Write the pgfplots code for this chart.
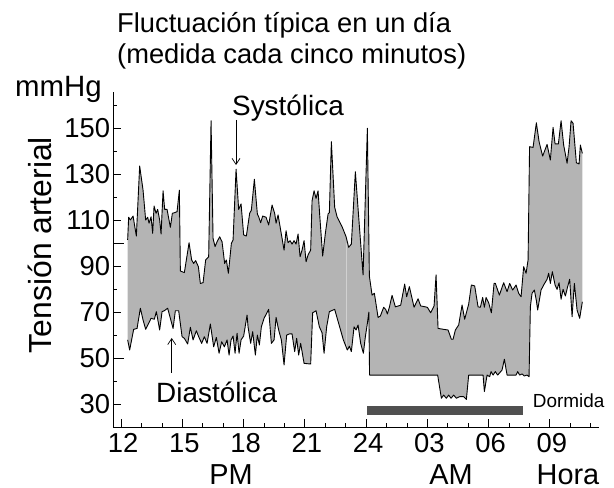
\documentclass[border=0pt]{standalone}
\usepackage{fontspec}
\setmainfont{Liberation Sans}
\usepackage{pgfplots}
\pgfplotsset{compat=1.18}
\usepgfplotslibrary{fillbetween}
\usepackage{pgfplotstable}
\usetikzlibrary{arrows.meta}
\definecolor{fillgray}{RGB}{180,180,180}
\definecolor{bargray}{RGB}{80,80,80}

\pgfplotstableread{
h v
12.323 101.4
12.372 111.3
12.455 110.1
12.588 111.8
12.749 103.1
12.911 133.6
13.077 123.1
13.205 110.1
13.303 111.3
13.371 108.7
13.469 111.5
13.548 104.3
13.616 116.2
13.714 113.0
13.792 114.7
13.890 110.1
13.959 104.0
14.057 122.8
14.135 114.7
14.253 114.7
14.414 106.9
14.512 113.0
14.625 113.3
14.742 113.7
14.855 123.1
14.904 87.9
15.100 87.2
15.330 100.2
15.457 92.7
15.555 91.2
15.653 92.4
15.786 89.8
15.883 82.5
16.016 82.8
16.143 92.7
16.290 94.1
16.407 153.3
16.505 102.1
16.603 98.5
16.701 100.6
16.829 102.8
16.946 100.6
17.073 91.2
17.157 92.7
17.255 86.9
17.402 99.9
17.485 101.4
17.632 132.2
17.759 114.7
17.877 117.1
18.004 103.6
18.136 103.1
18.298 113.0
18.381 114.4
18.528 127.8
18.675 112.7
18.738 111.5
18.836 108.9
18.934 111.8
19.101 111.3
19.228 107.9
19.395 116.6
19.522 113.0
19.591 108.7
19.689 112.3
19.816 105.7
19.982 97.0
20.080 105.4
20.178 100.2
20.276 101.1
20.374 99.6
20.472 101.1
20.570 99.6
20.668 104.0
20.766 94.1
20.864 97.0
20.962 101.1
21.060 91.9
21.158 94.9
21.285 97.0
21.354 118.5
21.452 122.8
21.549 119.5
21.647 122.8
21.745 110.1
21.873 94.4
22.005 104.3
22.137 112.7
22.201 113.3
22.299 144.2
22.461 115.6
22.578 111.5
22.823 107.2
23.019 102.8
23.146 98.2
23.278 99.6
23.474 131.1
23.636 111.5
23.851 86.2
24.062 150.0
24.160 85.7
24.292 77.4
24.405 78.2
24.586 67.7
24.698 68.3
24.860 72.1
24.958 71.2
25.041 69.2
25.139 72.1
25.271 77.3
25.433 72.3
25.693 73.0
25.889 82.2
25.986 76.7
26.119 81.1
26.349 72.1
26.545 75.8
26.672 72.7
27.000 72.1
27.162 69.7
27.328 72.7
27.426 86.2
27.524 62.9
28.014 62.2
28.175 58.2
28.258 58.2
28.371 62.2
28.533 64.4
28.699 73.1
28.827 66.9
29.023 73.5
29.155 81.8
29.317 81.4
29.483 72.3
29.596 72.1
29.708 76.4
29.791 72.1
29.875 76.4
30.002 74.1
30.134 69.7
30.266 82.5
30.330 82.5
30.526 77.4
30.737 82.8
30.903 78.9
31.031 82.5
31.177 79.6
31.344 81.8
31.471 78.2
31.589 76.7
31.716 89.8
31.834 86.9
31.932 92.7
32.005 142.0
32.176 141.7
32.338 152.4
32.470 144.2
32.646 137.9
32.862 143.0
33.023 136.2
33.156 150.4
33.254 143.2
33.416 143.2
33.548 153.3
33.675 142.7
33.842 134.8
33.940 142.0
34.037 153.3
34.135 152.2
34.297 135.0
34.429 134.5
34.493 142.7
34.590 139.1
}\sys

\pgfplotstableread{
h v
12.323 57.9
12.421 53.5
12.617 62.5
12.784 62.9
12.945 71.7
13.077 66.6
13.205 62.5
13.352 65.1
13.469 67.3
13.631 66.9
13.729 70.2
13.890 62.2
14.008 70.2
14.120 70.6
14.282 71.7
14.414 67.3
14.547 62.9
14.659 70.6
14.821 70.6
14.987 59.3
15.100 58.6
15.262 56.1
15.394 63.4
15.526 57.9
15.688 61.9
15.800 59.3
15.947 56.4
16.079 59.3
16.212 56.4
16.373 64.8
16.535 54.9
16.667 59.0
16.799 52.1
16.927 57.1
17.059 54.9
17.191 57.9
17.289 51.3
17.387 57.9
17.485 59.6
17.583 52.1
17.681 60.8
17.779 52.1
17.877 57.9
18.004 59.6
18.170 68.7
18.219 63.6
18.347 56.4
18.445 61.5
18.577 51.3
18.675 60.0
18.773 55.7
18.871 63.6
19.003 67.3
19.228 71.2
19.360 56.4
19.493 57.9
19.591 67.7
19.718 62.2
19.850 57.9
19.982 47.0
20.110 60.0
20.242 60.5
20.374 60.5
20.502 52.8
20.600 58.6
20.697 51.3
20.795 56.4
20.962 47.7
21.285 47.4
21.383 69.7
21.549 70.6
21.711 63.6
21.843 61.0
21.941 52.1
22.069 63.6
22.201 70.2
22.461 71.2
22.656 65.1
22.886 57.9
23.082 53.5
23.180 55.2
23.278 52.8
23.410 63.6
23.508 62.2
23.606 64.4
23.734 56.4
23.866 52.1
23.964 59.3
24.062 65.1
24.135 70.0
24.169 42.6
27.504 42.6
27.686 32.5
27.798 33.9
27.930 32.5
28.043 33.9
28.161 32.5
28.288 33.9
28.420 32.5
28.582 33.2
28.778 33.2
28.910 32.0
29.023 42.6
29.728 42.6
29.792 35.4
29.924 42.6
30.051 41.9
30.120 44.1
30.218 42.6
30.330 44.1
30.443 42.6
30.658 44.8
30.771 49.5
30.903 42.6
31.344 42.6
31.422 44.1
31.520 42.6
31.638 43.1
31.750 42.2
31.882 42.6
31.980 41.9
32.044 72.3
32.127 78.2
32.240 79.6
32.338 75.0
32.402 70.9
32.568 79.6
32.696 81.8
32.862 84.3
32.940 86.9
33.023 82.5
33.121 87.6
33.254 81.8
33.352 79.9
33.450 82.8
33.548 75.6
33.646 79.9
33.759 77.0
33.871 81.1
33.969 84.3
34.087 68.0
34.199 82.5
34.331 70.9
34.459 67.3
34.590 74.5
}\dia

\begin{document}
\begin{tikzpicture}
\begin{axis}[
  at={(113.3bp,61bp)}, anchor=south west,
  scale only axis, width=486bp, height=335bp,
  xmin=11.62, xmax=35.42, ymin=20, ymax=165.8,
  axis lines*=left,
  axis line style={black, line width=0.8bp},
  xtick={12,15,18,21,24,27,30,33},
  xticklabels={12,15,18,21,24,03,06,09},
  minor xtick={13,14,16,17,19,20,22,23,25,26,28,29,31,32,34,35},
  ytick={30,50,70,90,110,130,150},
  minor ytick={40,60,80,100,120,140,160},
  extra y ticks={50,100},
  extra y tick labels={},
  extra y tick style={major tick length=11bp},
  tick align=inside,
  major tick length=7.5bp,
  minor tick length=3.5bp,
  tick style={black, line width=0.8bp},
  /pgf/number format/assume math mode=true,
  ticklabel style={font=\fontsize{27.5}{28}\selectfont},
  xticklabel style={inner sep=0pt, yshift=-6bp, xshift=2bp},
  yticklabel style={inner sep=0pt, xshift=-3bp},
  clip=false,
]
\addplot[draw=none, name path=S, forget plot] table {\sys};
\addplot[draw=none, name path=D, forget plot] table {\dia};
\addplot[fill=fillgray, draw=none] fill between[of=S and D];
\addplot[color=white!82!black, line width=0.6bp] coordinates {(23.05,53.6) (23.05,100.2)};
\addplot[black, line width=0.9bp, line join=round] table {\sys};
\addplot[black, line width=0.9bp, line join=round] table {\dia};
\addplot[fill=bargray, draw=none] coordinates {(24.05,25.2) (31.69,25.2) (31.69,29.1) (24.05,29.1)} -- cycle;
\end{axis}
\node[anchor=base west, font=\fontsize{27.4}{27.4}\selectfont, inner sep=0pt] at (117bp,455.7bp) {Fluctuación típica en un día};
\node[anchor=base west, font=\fontsize{27.4}{27.4}\selectfont, inner sep=0pt] at (117bp,424.7bp) {(medida cada cinco minutos)};
\node[anchor=base west, font=\fontsize{29.5}{29.5}\selectfont, inner sep=0pt] at (15bp,391bp) {mmHg};
\node[anchor=base, font=\fontsize{28}{28}\selectfont, inner sep=0pt] at (288bp,372bp) {Systólica};
\node[anchor=base, font=\fontsize{28}{28}\selectfont, inner sep=0pt] at (216.7bp,85bp) {Diastólica};
\node[anchor=base west, font=\fontsize{19}{19}\selectfont, inner sep=0pt] at (532.7bp,80bp) {Dormida};
\node[anchor=base, font=\fontsize{29}{29}\selectfont, inner sep=0pt] at (231bp,4bp) {PM};
\node[anchor=base, font=\fontsize{29}{29}\selectfont, inner sep=0pt] at (451bp,4bp) {AM};
\node[anchor=base, font=\fontsize{29}{29}\selectfont, inner sep=0pt] at (568bp,4bp) {Hora};
\node[rotate=90, font=\fontsize{32}{32}\selectfont, inner sep=0pt] at (39.5bp,243bp) {Tensión arterial};
\draw[-{Straight Barb[length=6bp,width=8bp]}, line width=0.7bp] (236bp,368bp) -- (236bp,323bp);
\draw[-{Straight Barb[length=6bp,width=8bp]}, line width=0.7bp] (171.7bp,115bp) -- (171.7bp,150bp);
\pgfresetboundingbox
\path (0,0) rectangle (614bp,488bp);
\end{tikzpicture}
\end{document}
